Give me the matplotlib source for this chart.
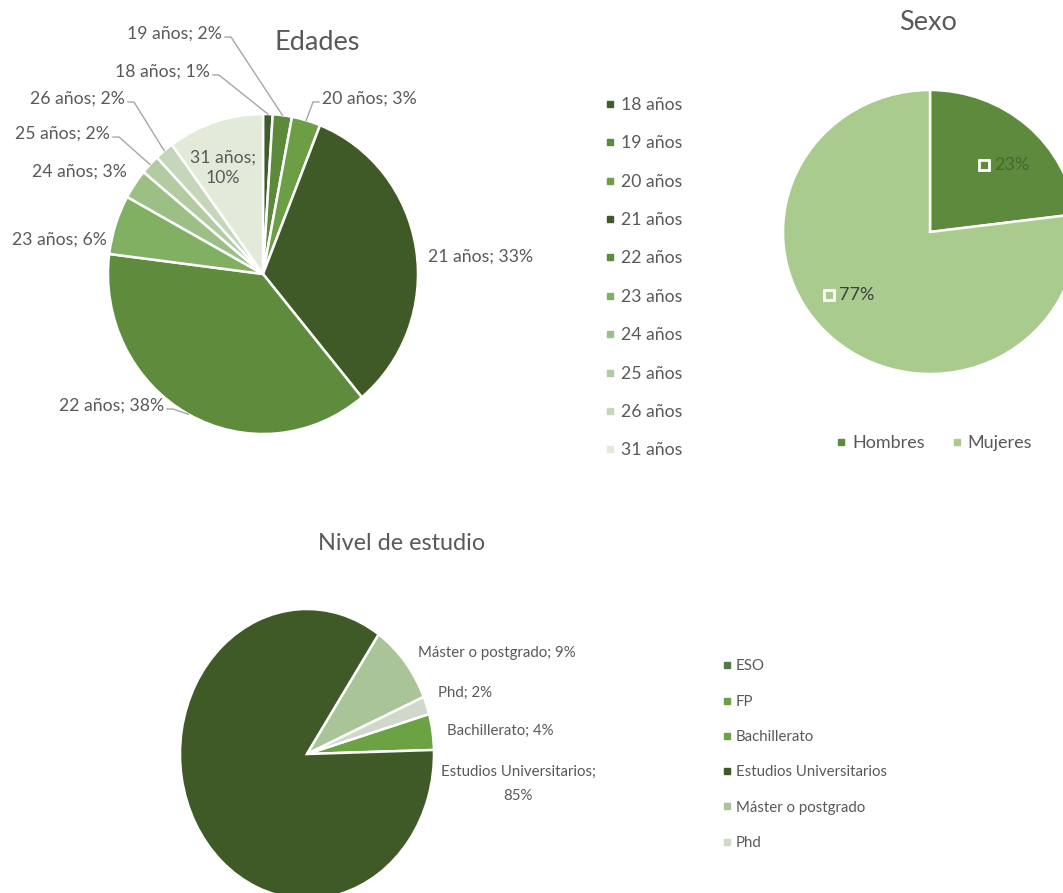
import matplotlib
matplotlib.use("Agg")
import matplotlib.pyplot as plt
from matplotlib.lines import Line2D
import numpy as np

# ---------------- data ----------------
edad_labels = ["18 años", "19 años", "20 años", "21 años", "22 años",
               "23 años", "24 años", "25 años", "26 años", "31 años"]
edad_pct = [1, 2, 3, 33, 38, 6, 3, 2, 2, 10]

sexo_labels = ["Hombres", "Mujeres"]
sexo_pct = [23, 77]

nivel_labels = ["ESO", "FP", "Bachillerato", "Estudios Universitarios",
                "Máster o postgrado", "Phd"]
nivel_pct = [0, 0, 4, 85, 9, 2]

# ---------------- styles ----------------
edad_colors = ["#3d5e2a", "#5a8a3a", "#6b9e45", "#3f5a27", "#5f8b3d",
               "#82b062", "#9cbf85", "#b2cba1", "#c6d6bb", "#e2ebd9"]
sexo_colors = ["#5e8a3e", "#a9cb8e"]
nivel_colors = ["#55784a", "#6b9e45", "#6aa244", "#3f5a27", "#a9c496", "#d0d8cc"]

FONT = ["Lato", "DejaVu Sans"]
TXT = "#595959"
plt.rcParams["font.family"] = FONT

W, H = 1063, 893
fig = plt.figure(figsize=(W / 100, H / 100), dpi=100)
fig.patch.set_facecolor("white")


def fx(x):
    return x / W


def fy(y):
    return 1 - y / H


def pie_axes(cx, cy, rx, ry):
    return fig.add_axes([(cx - rx) / W, 1 - (cy + ry) / H, 2 * rx / W, 2 * ry / H])


def finish(ax):
    ax.set_aspect("auto")
    ax.set_xlim(-1, 1)
    ax.set_ylim(-1, 1)
    ax.axis("off")


def edge_px(ax, theta_deg, r=1.0):
    t = np.deg2rad(theta_deg)
    p = ax.transData.transform((r * np.cos(t), r * np.sin(t)))
    return fig.transFigure.inverted().transform(p)


wprops = dict(edgecolor="white", linewidth=1.8)

# ---------------- Edades ----------------
FS1 = 12.7
ax1 = pie_axes(263, 274, 155, 160)
w1, _ = ax1.pie(edad_pct, colors=edad_colors, startangle=90, counterclock=False,
                radius=1, wedgeprops=wprops)
for w in w1:
    w.set_clip_on(False)
finish(ax1)
fig.text(fx(317), fy(42), "Edades", ha="center", va="center", fontsize=19.5, color=TXT)

# label text positions (pixels): x, y, ha, leader direction (+1 right, -1 left, 0 none)
edad_lab_pos = [(210, 72, "right", 1), (222, 34, "right", 1), (322, 99, "left", -1),
                (428, 257, "left", 0), (164, 406, "right", 1), (107, 240, "right", 0),
                (127, 172, "right", 0), (110, 134, "right", 1), (125, 99, "right", 1),
                (223, 0, "center", 0)]
fig.canvas.draw()
for w, lab, pct, (x, y, ha, d) in zip(w1, edad_labels, edad_pct, edad_lab_pos):
    if lab == "31 años":
        fig.text(fx(223), fy(158), f"{lab};", ha="center", va="center", fontsize=FS1, color=TXT)
        fig.text(fx(223), fy(178), f"{pct}%", ha="center", va="center", fontsize=FS1, color=TXT)
        continue
    fig.text(fx(x), fy(y), f"{lab}; {pct}%", ha=ha, va="center", fontsize=FS1, color=TXT)
    if d != 0:
        mid = (w.theta1 + w.theta2) / 2
        ex, ey = edge_px(ax1, mid)
        if d > 0:
            x0, x1 = x + 3, x + 9
        else:
            x0, x1 = x - 3, x - 9
        ly = y + 3
        fig.add_artist(Line2D([fx(x0), fx(x1), ex], [fy(ly), fy(ly), ey],
                              transform=fig.transFigure, color="#a6a6a6", lw=1.0))

# Edades legend
edad_handles = [Line2D([], [], marker="s", linestyle="", markersize=5, color=c)
                for c in edad_colors]
fig.legend(edad_handles, edad_labels, loc="upper left", bbox_to_anchor=(fx(589), fy(81)),
           frameon=False, fontsize=FS1, labelspacing=1.27, handlelength=0.6,
           handletextpad=0.3, labelcolor=TXT)

# ---------------- Sexo ----------------
FS2 = 13.0
ax2 = pie_axes(930, 232, 147, 142)
w2, _ = ax2.pie(sexo_pct, colors=sexo_colors, startangle=90, counterclock=False,
                radius=1, wedgeprops=wprops)
for w in w2:
    w.set_clip_on(False)
finish(ax2)
fig.text(fx(928), fy(22), "Sexo", ha="center", va="center", fontsize=19.5, color=TXT)
sexo_lab_pos = [(984, 165), (829, 295)]
sexo_txt_colors = ["#46682f", "#404040"]
for w, pct, (x, y), tc in zip(w2, sexo_pct, sexo_lab_pos, sexo_txt_colors):
    fig.add_artist(Line2D([fx(x)], [fy(y)], marker="s", markersize=7, markerfacecolor="none",
                          markeredgecolor="white", markeredgewidth=2,
                          transform=fig.transFigure, linestyle=""))
    fig.text(fx(x + 10), fy(y), f"{pct}%", ha="left", va="center", fontsize=FS2, color=tc)

sexo_handles = [Line2D([], [], marker="s", linestyle="", markersize=5, color=c)
                for c in sexo_colors]
fig.legend(sexo_handles, sexo_labels, loc="center", bbox_to_anchor=(fx(934), fy(443)),
           ncol=2, frameon=False, fontsize=FS2, handlelength=0.6, handletextpad=0.3,
           columnspacing=1.5, labelcolor=TXT)

# ---------------- Nivel de estudio ----------------
FS3 = 10.8
ax3 = pie_axes(307, 754, 127, 145)
w3, _ = ax3.pie(nivel_pct, colors=nivel_colors, startangle=16, counterclock=False,
                radius=1, wedgeprops=wprops)
for w in w3:
    w.set_clip_on(False)
finish(ax3)
fig.text(fx(402), fy(543), "Nivel de estudio", ha="center", va="center", fontsize=16.8,
         color=TXT)
nivel_lab_pos = {"Máster o postgrado": (497, 653), "Phd": (465, 693),
                 "Bachillerato": (500, 731)}
for lab, pct in zip(nivel_labels, nivel_pct):
    if lab in nivel_lab_pos:
        x, y = nivel_lab_pos[lab]
        fig.text(fx(x), fy(y), f"{lab}; {pct}%", ha="center", va="center", fontsize=FS3,
                 color=TXT)
    elif lab == "Estudios Universitarios":
        fig.text(fx(518), fy(772), f"{lab};", ha="center", va="center", fontsize=FS3, color=TXT)
        fig.text(fx(518), fy(796), f"{pct}%", ha="center", va="center", fontsize=FS3, color=TXT)

nivel_handles = [Line2D([], [], marker="s", linestyle="", markersize=5, color=c)
                 for c in nivel_colors]
fig.legend(nivel_handles, nivel_labels, loc="upper left", bbox_to_anchor=(fx(709), fy(646)),
           frameon=False, fontsize=FS3, labelspacing=1.42, handlelength=0.6,
           handletextpad=0.3, labelcolor=TXT)

fig.savefig("out.png", dpi=100, facecolor="white")
